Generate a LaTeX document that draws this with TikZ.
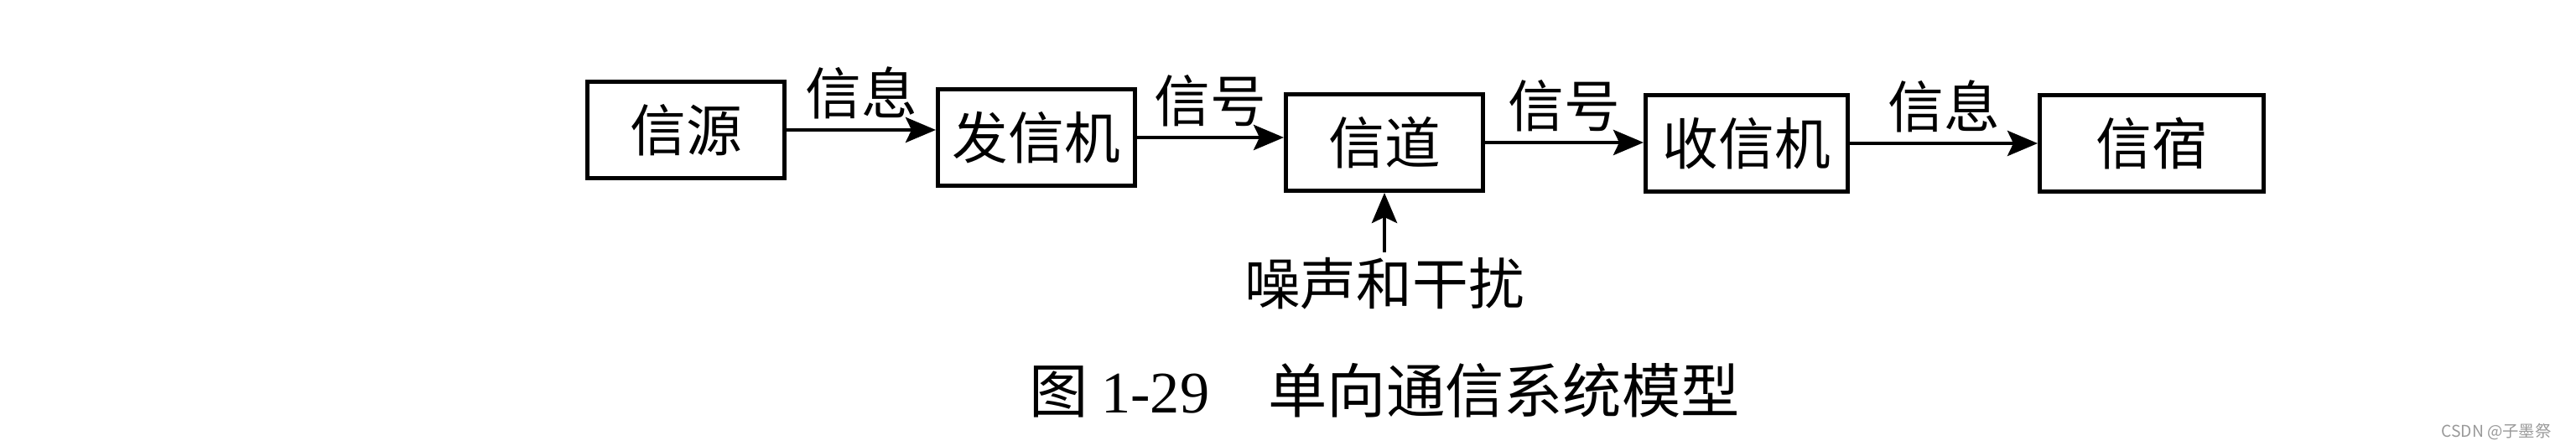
\documentclass[tikz,border=0pt]{standalone}
\usepackage{fontspec}
\setmainfont{Noto Sans CJK SC}
\newfontfamily\numfont{Liberation Serif}
\usetikzlibrary{positioning, arrows.meta}

\begin{document}
\begin{tikzpicture}[
    blk/.style={draw, line width=1.4pt, minimum width=2.35cm, minimum height=1.15cm,
      inner sep=0pt, font=\fontsize{19pt}{21pt}\selectfont},
    flow/.style={-{Stealth[length=0.36cm, width=0.3cm, inset=0.07cm]}, line width=1.4pt},
    lbl/.style={inner sep=0pt, font=\fontsize{19pt}{21pt}\selectfont},
  ]
  \useasboundingbox (0,0) rectangle (30.72,5.32);
  \node[blk] (src) at (8.18,3.77) {信源};
  \node[blk] (tx) at (12.36,3.68) {发信机};
  \node[blk] (chan) at (16.51,3.62) {信道};
  \node[blk, minimum width=2.41cm] (rx) at (20.83,3.61) {收信机};
  \node[blk, minimum width=2.67cm] (dst) at (25.66,3.61) {信宿};
  \node[lbl, below=0.77cm of chan] (noise) {噪声和干扰};
  \node[lbl, below=0.62cm of noise, font=\fontsize{20pt}{22pt}\selectfont] (cap)
    {图 {\numfont 1-29}\hspace{1em}单向通信系统模型};
  \node[inner sep=0pt, text=gray!80, font=\fontsize{5.5pt}{6pt}\selectfont] (mark)
    at (29.77,0.17) {CSDN @子墨祭};
  \draw[flow] (src.east) -- node[lbl, above=0.1cm] (m1) {信息} (src.east -| tx.west);
  \draw[flow] (tx.east) -- node[lbl, above=0.1cm] (s1) {信号} (tx.east -| chan.west);
  \draw[flow] (chan.east) -- node[lbl, above=0.1cm] (s2) {信号} (chan.east -| rx.west);
  \draw[flow] (rx.east) -- node[lbl, above=0.1cm] (m2) {信息} (rx.east -| dst.west);
  \draw[flow, shorten <=0.06cm] (noise) -- (chan);
\end{tikzpicture}
\end{document}
